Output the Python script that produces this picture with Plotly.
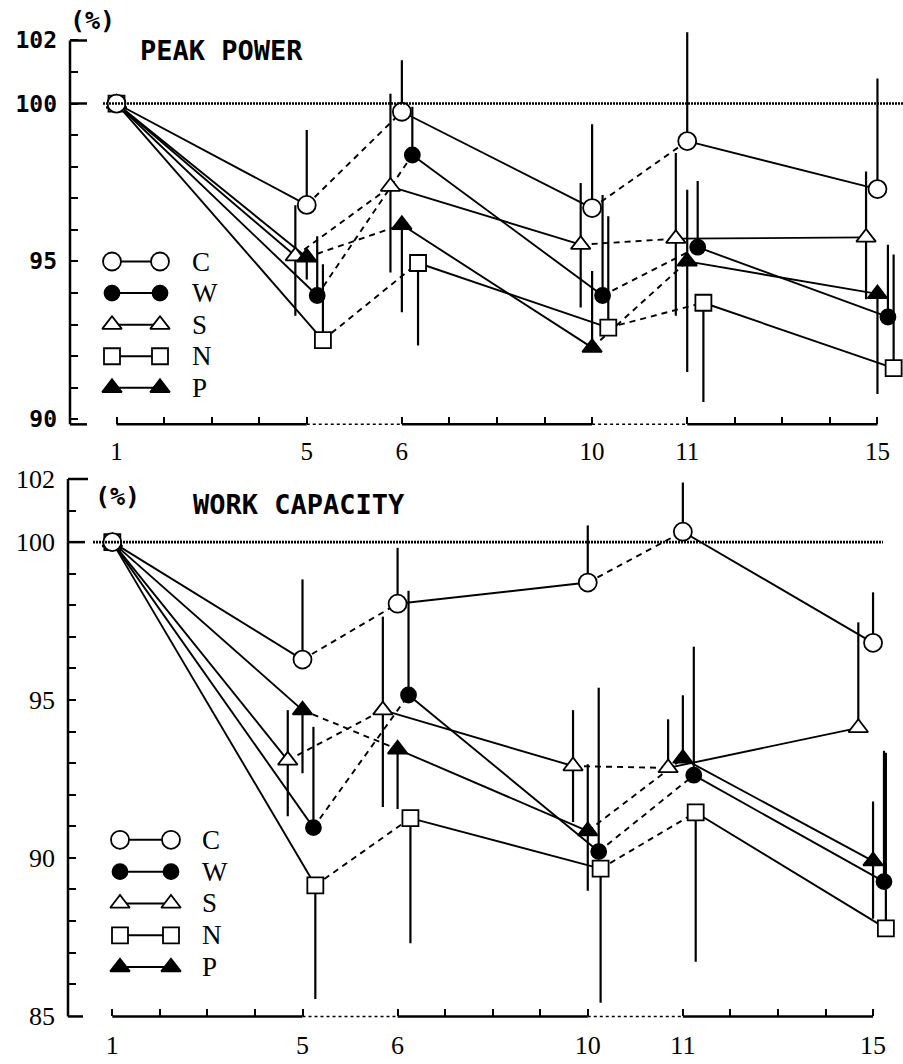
import plotly.graph_objects as go

W_PX, H_PX = 903, 1064

# ---------------- data ----------------
DAYS = [1, 5, 6, 10, 11, 15]
MINOR_DAYS = [2, 3, 4, 7, 8, 9, 12, 13, 14]
GROUPS = ["C", "W", "S", "N", "P"]

# PEAK POWER (% of day 1)
pp_C = [100, 96.79, 99.74, 96.69, 98.81, 97.29]
pp_W = [100, 93.92, 98.37, 93.92, 95.45, 93.24]
pp_S = [100, 95.17, 97.37, 95.53, 95.72, 95.76]
pp_N = [100, 92.51, 94.95, 92.90, 93.69, 91.62]
pp_P = [100, 95.13, 96.16, 92.27, 95.00, 93.97]
# error bars (upper / lower)
pp_C_up = [0, 2.37, 1.63, 2.65, 3.45, 3.50]
pp_C_dn = [0, 0, 0, 0, 0, 0]
pp_W_up = [0, 1.88, 1.53, 3.18, 2.10, 2.29]
pp_W_dn = [0, 0, 0, 0, 0, 0]
pp_S_up = [0, 1.61, 2.94, 1.95, 2.71, 2.09]
pp_S_dn = [0, 1.89, 2.72, 1.99, 2.44, 1.96]
pp_N_up = [0, 2.40, 0, 3.53, 0, 3.60]
pp_N_dn = [0, 0, 2.61, 0, 3.14, 0]
pp_P_up = [0, 0, 0, 2.43, 2.27, 0]
pp_P_dn = [0, 0.70, 2.77, 0, 3.50, 3.17]

# WORK CAPACITY (% of day 1)
wc_C = [100, 96.28, 98.05, 98.72, 100.33, 96.81]
wc_W = [100, 90.96, 95.16, 90.20, 92.62, 89.25]
wc_S = [100, 93.09, 94.68, 92.91, 92.85, 94.12]
wc_N = [100, 89.13, 91.26, 89.66, 91.44, 87.77]
wc_P = [100, 94.68, 93.44, 90.85, 93.15, 89.90]
wc_C_up = [0, 2.54, 1.77, 1.81, 1.56, 1.60]
wc_C_dn = [0, 0, 0, 0, 0, 0]
wc_W_up = [0, 3.19, 3.30, 5.19, 4.07, 4.14]
wc_W_dn = [0, 0, 0, 0, 0, 0]
wc_S_up = [0, 1.59, 2.96, 1.77, 1.54, 3.34]
wc_S_dn = [0, 1.77, 3.07, 1.77, 0, 0]
wc_N_up = [0, 0, 0, 0, 0, 5.56]
wc_N_dn = [0, 3.60, 3.96, 4.25, 4.73, 0]
wc_P_up = [0, 0, 0, 2.12, 2.00, 1.89]
wc_P_dn = [0, 2.00, 1.89, 1.89, 0, 1.83]

PANELS = [
    dict(title="PEAK POWER",
         vals={"C": pp_C, "W": pp_W, "S": pp_S, "N": pp_N, "P": pp_P},
         up={"C": pp_C_up, "W": pp_W_up, "S": pp_S_up, "N": pp_N_up, "P": pp_P_up},
         dn={"C": pp_C_dn, "W": pp_W_dn, "S": pp_S_dn, "N": pp_N_dn, "P": pp_P_dn},
         yticks=[90, 95, 100, 102]),
    dict(title="WORK CAPACITY",
         vals={"C": wc_C, "W": wc_W, "S": wc_S, "N": wc_N, "P": wc_P},
         up={"C": wc_C_up, "W": wc_W_up, "S": wc_S_up, "N": wc_N_up, "P": wc_P_up},
         dn={"C": wc_C_dn, "W": wc_W_dn, "S": wc_S_dn, "N": wc_N_dn, "P": wc_P_dn},
         yticks=[85, 90, 95, 100, 102]),
]

# ---------------- styles / layout ----------------
STYLE = {
    "C": dict(symbol="circle", color="white", size=18),
    "W": dict(symbol="circle", color="black", size=15),
    "S": dict(symbol="triangle-up", color="white", size=17),
    "N": dict(symbol="square", color="white", size=16),
    "P": dict(symbol="triangle-up", color="black", size=17),
}
# horizontal jitter of the groups (axis units), per panel
JITTER = [
    {"C": 0.0, "W": 0.22, "S": -0.24, "N": 0.34, "P": 0.0},
    {"C": 0.0, "W": 0.23, "S": -0.31, "N": 0.27, "P": 0.0},
]
DRAW_ORDER = ["N", "S", "W", "P", "C"]

# panel geometry in pixels
GEOM = [
    dict(x0=70, y_top=15, y_bot=430, xrange=[-0.978, 16.537], yrange=[89.84, 102.81],
         ylo=90, ref_x0=103, ref_x1=903, cap_len={102: 17, 100: 17}, bot_cap=17,
         leg_x=(112, 160), leg_y=(265, 393), leg_lab=190,
         pct=(68, 21), title=(138, 51), xstand=10,
         yfont=dict(family="DejaVu Sans Mono", size=23, color="black", weight="bold"),
         xfont=dict(family="Liberation Serif", size=25, color="black")),
    dict(x0=68, y_top=470, y_bot=1030, xrange=[-0.932, 16.63], yrange=[84.98, 102.48],
         ylo=85, ref_x0=93, ref_x1=883, cap_len={102: 20, 100: 17}, bot_cap=15,
         leg_x=(120, 171), leg_y=(851, 980), leg_lab=200,
         pct=(93, 503), title=(191, 511), xstand=11,
         yfont=dict(family="Liberation Serif", size=26, color="black"),
         xfont=dict(family="Liberation Serif", size=26, color="black")),
]


def day_pos(d):
    # broken day axis: blocks of 5 test days separated by a gap
    return (d - 1) + (d - 1) // 5


def px_x(p):
    return p / W_PX


def px_y(p):
    return 1 - p / H_PX


fig = go.Figure()
shapes = []
annotations = []
layout_axes = {}

SOLID_SEG = [(0, 1), (2, 3), (4, 5)]
DASH_SEG = [(1, 2), (3, 4)]

for k, (panel, g) in enumerate(zip(PANELS, GEOM)):
    xa = "x" if k == 0 else "x2"
    ya = "y" if k == 0 else "y2"
    la_x = "x3" if k == 0 else "x4"
    la_y = "y3" if k == 0 else "y4"
    xs = {}
    for grp in GROUPS:
        xs[grp] = [day_pos(d) + (JITTER[k][grp] if d != DAYS[0] else 0) for d in DAYS]

    # connecting lines: solid within a test block, dashed across the breaks
    for grp in GROUPS:
        v = panel["vals"][grp]
        for segs, dash in ((SOLID_SEG, "solid"), (DASH_SEG, "6px,5px")):
            lx, ly = [], []
            for a, b in segs:
                lx += [xs[grp][a], xs[grp][b], None]
                ly += [v[a], v[b], None]
            fig.add_trace(go.Scatter(x=lx, y=ly, mode="lines", xaxis=xa, yaxis=ya,
                                     line=dict(color="black", width=1.9, dash=dash),
                                     showlegend=False, hoverinfo="skip"))
    # markers + one/two-sided SD bars
    for grp in DRAW_ORDER:
        st = STYLE[grp]
        fig.add_trace(go.Scatter(
            x=xs[grp], y=panel["vals"][grp], mode="markers", xaxis=xa, yaxis=ya,
            marker=dict(symbol=st["symbol"], size=st["size"], color=st["color"],
                        line=dict(color="black", width=1.8)),
            error_y=dict(type="data", symmetric=False, array=panel["up"][grp],
                         arrayminus=panel["dn"][grp], color="black", thickness=2.2, width=0),
            cliponaxis=False, showlegend=False, name=grp))

    xdom = [px_x(g["x0"]), 1.0]
    ydom = [px_y(g["y_bot"]), px_y(g["y_top"])]
    layout_axes["xaxis" if k == 0 else "xaxis2"] = dict(
        domain=xdom, range=g["xrange"], anchor=ya, showline=False, showgrid=False,
        zeroline=False, tickmode="array", tickvals=[day_pos(d) for d in DAYS],
        ticktext=[str(d) for d in DAYS], ticks="inside", ticklen=7, tickwidth=2,
        tickcolor="black", tickfont=g["xfont"], ticklabelstandoff=g["xstand"],
        minor=dict(tickmode="array", tickvals=[day_pos(d) for d in MINOR_DAYS],
                   ticks="inside", ticklen=7, tickwidth=2, tickcolor="black"))
    layout_axes["yaxis" if k == 0 else "yaxis2"] = dict(
        domain=ydom, range=g["yrange"], anchor=xa, showline=False, showgrid=False,
        zeroline=False, tickmode="array", tickvals=panel["yticks"],
        ticktext=[str(t) for t in panel["yticks"]], ticks="inside", ticklen=8,
        tickwidth=2, tickcolor="black", tickfont=g["yfont"], ticklabelstandoff=12,
        minor=dict(dtick=1, tick0=g["ylo"], ticks="inside", ticklen=8, tickwidth=2,
                   tickcolor="black"))

    # y axis line (domain bottom up to 102) and long caps
    y102 = ydom[0] + (102 - g["yrange"][0]) / (g["yrange"][1] - g["yrange"][0]) * (ydom[1] - ydom[0])
    shapes.append(dict(type="line", xref="paper", yref="paper", x0=px_x(g["x0"]),
                       x1=px_x(g["x0"]), y0=ydom[0], y1=y102,
                       line=dict(color="black", width=2.5)))
    for yv, ln in g["cap_len"].items():
        shapes.append(dict(type="line", xref="paper", yref=ya, x0=px_x(g["x0"]),
                           x1=px_x(g["x0"] + ln), y0=yv, y1=yv,
                           line=dict(color="black", width=2.5)))
    shapes.append(dict(type="line", xref="paper", yref="paper", x0=px_x(g["x0"]),
                       x1=px_x(g["x0"] + g["bot_cap"]), y0=ydom[0], y1=ydom[0],
                       line=dict(color="black", width=2.5)))
    # broken x axis line
    for a, b in SOLID_SEG:
        shapes.append(dict(type="line", xref=xa, yref=ya + " domain",
                           x0=day_pos(DAYS[a]), x1=day_pos(DAYS[b]), y0=0, y1=0,
                           line=dict(color="black", width=2.5)))
    for a, b in DASH_SEG:
        shapes.append(dict(type="line", xref=xa, yref=ya + " domain",
                           x0=day_pos(DAYS[a]), x1=day_pos(DAYS[b]), y0=0, y1=0,
                           line=dict(color="black", width=1.5, dash="3px,3px")))
    # 100 % reference line
    shapes.append(dict(type="line", xref="paper", yref=ya, x0=px_x(g["ref_x0"]),
                       x1=px_x(g["ref_x1"]), y0=100, y1=100,
                       line=dict(color="black", width=2.6, dash="2px,1px")))

    # legend drawn on its own small axes
    lx0, lx1 = g["leg_x"]
    ly0, ly1 = g["leg_y"]
    ux = (lx1 - lx0)
    uy = (ly1 - ly0) / 4
    layout_axes["xaxis3" if k == 0 else "xaxis4"] = dict(
        domain=[px_x(lx0 - 0.5 * ux), px_x(lx1 + 0.5 * ux)], range=[-0.5, 1.5],
        visible=False, anchor=la_y, fixedrange=True)
    layout_axes["yaxis3" if k == 0 else "yaxis4"] = dict(
        domain=[px_y(ly1 + 0.5 * uy), px_y(ly0 - 0.5 * uy)], range=[4.5, -0.5],
        visible=False, anchor=la_x, fixedrange=True)
    for i, grp in enumerate(GROUPS):
        st = STYLE[grp]
        fig.add_trace(go.Scatter(
            x=[0, 1], y=[i, i], mode="lines+markers", xaxis=la_x, yaxis=la_y,
            line=dict(color="black", width=2),
            marker=dict(symbol=st["symbol"], size=st["size"], color=st["color"],
                        line=dict(color="black", width=1.8)),
            cliponaxis=False, showlegend=False, hoverinfo="skip"))
        annotations.append(dict(xref="paper", yref=la_y, x=px_x(g["leg_lab"]), y=i,
                                text=grp, showarrow=False, xanchor="left", yanchor="middle",
                                font=dict(family="Liberation Serif", size=27, color="black")))

    # titles
    annotations.append(dict(xref="paper", yref="paper", x=px_x(g["pct"][0]),
                            y=px_y(g["pct"][1]), text="(%)", showarrow=False,
                            xanchor="left", yanchor="middle",
                            font=dict(family="DejaVu Sans Mono", size=25, color="black",
                                      weight="bold")))
    annotations.append(dict(xref="paper", yref="paper", x=px_x(g["title"][0]),
                            y=px_y(g["title"][1]), text=panel["title"], showarrow=False,
                            xanchor="left", yanchor="middle",
                            font=dict(family="DejaVu Sans Mono", size=27, color="black",
                                      weight="bold")))

fig.update_layout(
    width=W_PX, height=H_PX,
    margin=dict(l=0, r=0, t=0, b=0),
    paper_bgcolor="white", plot_bgcolor="rgba(0,0,0,0)",
    showlegend=False, shapes=shapes, annotations=annotations,
    **layout_axes,
)

fig.write_html(
    "out.html",
    config={"displayModeBar": False},
    post_script="document.body.style.margin='0px';document.body.style.overflow='hidden';",
)
